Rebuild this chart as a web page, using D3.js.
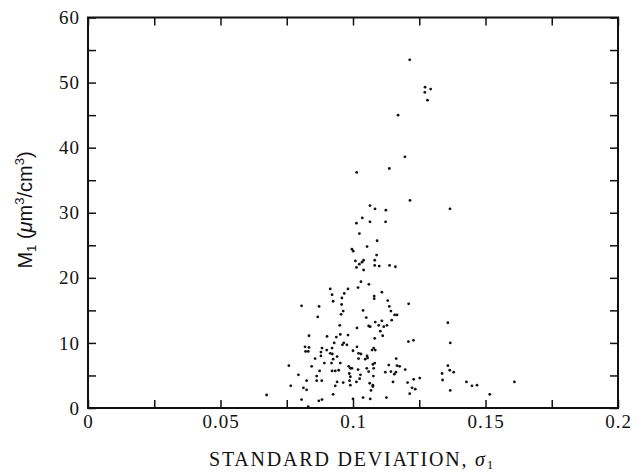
<!DOCTYPE html>
<html>
<head>
<meta charset="utf-8">
<script src="https://cdn.jsdelivr.net/npm/d3@7"></script>
<style>
  body { margin: 0; background: #fff; }
  svg { display: block; }
</style>
</head>
<body>
<script>
var width = 637;
var height = 475;
var plotLeft = 88, plotRight = 618, plotTop = 17.5, plotBottom = 408;

// standard deviation (sigma_1) of each sample
var sigma = [
  0.1214, 0.1272, 0.1293, 0.1271, 0.1281, 0.1170, 0.1196, 0.1137, 0.1014, 0.1215,
  0.1366, 0.1064, 0.1083, 0.1124, 0.1035, 0.1013, 0.1064, 0.1123, 0.1024, 0.1091,
  0.1053, 0.0996, 0.1001, 0.1089, 0.1009, 0.1040, 0.1082, 0.1024, 0.1034, 0.1013,
  0.1040, 0.1082, 0.1099, 0.1138, 0.1160, 0.1030, 0.1019, 0.1060, 0.0981, 0.0914,
  0.0921, 0.0967, 0.1109, 0.1080, 0.1080, 0.0925, 0.0958, 0.0957, 0.1131, 0.1210,
  0.0872, 0.0963, 0.1038, 0.1137, 0.1143, 0.0955, 0.1157, 0.1166, 0.1050, 0.1109,
  0.1084, 0.1358, 0.1146, 0.0867, 0.1015, 0.1059, 0.1065, 0.1097, 0.1116, 0.1128,
  0.1103, 0.1112, 0.1082, 0.0950, 0.0981, 0.0952, 0.0937, 0.0902, 0.0965, 0.0960,
  0.0977, 0.1000, 0.1015, 0.1021, 0.1030, 0.1053, 0.1072, 0.1084, 0.1078, 0.1209,
  0.1228, 0.1367, 0.0883, 0.0879, 0.0921, 0.0914, 0.0892, 0.0925, 0.0940, 0.0952,
  0.1021, 0.1046, 0.1055, 0.1075, 0.1082, 0.1135, 0.1166, 0.1176, 0.1358, 0.1365,
  0.1380, 0.0874, 0.0921, 0.0933, 0.0946, 0.0984, 0.0990, 0.0996, 0.1019, 0.1028,
  0.1059, 0.1078, 0.1122, 0.1143, 0.1156, 0.1162, 0.1197, 0.1336, 0.1338, 0.1252,
  0.1229, 0.1206, 0.1428, 0.1449, 0.1468, 0.1609, 0.0986, 0.0990, 0.1013, 0.0987,
  0.0940, 0.0933, 0.0990, 0.1025, 0.1063, 0.1075, 0.1075, 0.1151, 0.1223, 0.1235,
  0.1214, 0.1367, 0.0925, 0.1516, 0.0883, 0.0871, 0.1000, 0.1038, 0.1065, 0.1126,
  0.1052, 0.1068, 0.1077, 0.1163, 0.0806, 0.0834, 0.0819, 0.0834, 0.0821, 0.0831,
  0.0857, 0.0758, 0.0844, 0.0794, 0.0863, 0.0863, 0.0825, 0.0765, 0.0813, 0.0825,
  0.0674, 0.0806, 0.0831, 0.0929, 0.0901, 0.0922, 0.0919, 0.0882, 0.0963, 0.0879
];

// M_1 in um^3/cm^3, same order as sigma
var m1 = [
  53.5, 49.3, 49.0, 48.5, 47.3, 45.0, 38.6, 36.8, 36.2, 31.9,
  30.6, 31.1, 30.6, 30.4, 29.2, 28.4, 28.6, 28.6, 26.8, 25.7,
  24.8, 24.4, 24.1, 23.5, 22.6, 22.7, 22.7, 22.1, 22.4, 21.6,
  21.2, 21.9, 21.8, 21.9, 21.7, 19.4, 18.5, 19.0, 18.3, 18.3,
  17.4, 17.6, 17.8, 17.2, 16.8, 16.4, 16.9, 15.9, 16.5, 16.0,
  15.6, 14.9, 15.0, 15.6, 14.9, 14.4, 14.3, 14.3, 13.9, 13.4,
  13.2, 13.1, 13.5, 14.0, 12.3, 12.6, 12.5, 12.7, 12.5, 12.7,
  11.8, 11.1, 10.7, 12.7, 11.2, 11.3, 10.9, 11.0, 10.0, 9.7,
  9.7, 8.8, 9.4, 8.4, 8.3, 8.0, 8.9, 8.9, 9.2, 10.2,
  10.4, 10.0, 9.2, 8.6, 9.2, 8.4, 6.9, 7.5, 7.9, 6.9,
  7.6, 7.5, 7.7, 6.7, 6.9, 6.6, 6.5, 6.4, 6.5, 5.8,
  5.5, 5.7, 5.7, 5.7, 5.8, 6.4, 6.1, 6.1, 5.9, 5.1,
  5.6, 6.1, 5.5, 5.6, 5.2, 5.5, 5.9, 5.3, 4.3, 4.6,
  4.4, 3.9, 4.0, 3.4, 3.5, 4.0, 5.3, 4.8, 4.0, 4.2,
  4.0, 3.4, 3.5, 4.5, 3.8, 3.5, 3.3, 4.0, 3.1, 2.9,
  2.2, 2.7, 2.1, 2.1, 1.3, 1.1, 1.4, 1.6, 1.4, 1.6,
  6.1, 2.7, 4.9, 7.6, 15.7, 11.1, 9.4, 9.3, 8.7, 8.7,
  7.6, 6.5, 6.4, 5.1, 4.9, 4.2, 4.2, 3.4, 3.1, 2.8,
  2.0, 1.3, 0.2, 10.0, 8.9, 8.3, 6.9, 4.2, 3.9, 8.0
];

var xTicks = [0, 0.05, 0.1, 0.15, 0.2];
var xMinor = [0, 0.025, 0.05, 0.075, 0.1, 0.125, 0.15, 0.175, 0.2];
var yTicks = [0, 10, 20, 30, 40, 50, 60];
var yMinor = [0, 5, 10, 15, 20, 25, 30, 35, 40, 45, 50, 55, 60];

var svg = d3.select("body").append("svg")
  .attr("width", width)
  .attr("height", height);

var xScale = d3.scaleLinear().domain([0, 0.2]).range([plotLeft, plotRight]);
var yScale = d3.scaleLinear().domain([0, 60]).range([plotBottom, plotTop]);

var serif = "'Liberation Serif', 'DejaVu Serif', serif";

// inward tick marks on all four sides
function tickAxis(axis, tx, ty) {
  var g = svg.append("g")
    .attr("transform", "translate(" + tx + "," + ty + ")")
    .call(axis);
  g.select(".domain").remove();
  g.selectAll(".tick line").attr("stroke", "#111").attr("stroke-width", 1.5);
  g.selectAll("text").remove();
}
tickAxis(d3.axisBottom(xScale).tickValues(xMinor).tickSize(-8), 0, plotBottom);
tickAxis(d3.axisTop(xScale).tickValues(xMinor).tickSize(-8), 0, plotTop);
tickAxis(d3.axisLeft(yScale).tickValues(yMinor).tickSize(-8), plotLeft, 0);
tickAxis(d3.axisRight(yScale).tickValues(yMinor).tickSize(-8), plotRight, 0);

// tick labels
var xLab = svg.append("g")
  .attr("transform", "translate(0," + plotBottom + ")")
  .call(d3.axisBottom(xScale).tickValues(xTicks).tickSize(0).tickPadding(7)
    .tickFormat(d => String(d)));
xLab.select(".domain").remove();
xLab.selectAll("text").attr("font-family", serif).attr("font-size", 19)
  .attr("letter-spacing", 1).attr("fill", "#111");

var yLab = svg.append("g")
  .attr("transform", "translate(" + plotLeft + ",0)")
  .call(d3.axisLeft(yScale).tickValues(yTicks).tickSize(0).tickPadding(8));
yLab.select(".domain").remove();
yLab.selectAll("text").attr("font-family", serif).attr("font-size", 19)
  .attr("letter-spacing", 1).attr("fill", "#111");

// frame
svg.append("rect")
  .attr("x", plotLeft).attr("y", plotTop)
  .attr("width", plotRight - plotLeft).attr("height", plotBottom - plotTop)
  .attr("fill", "none").attr("stroke", "#111").attr("stroke-width", 2);

// points
svg.append("g").selectAll("circle")
  .data(sigma)
  .enter().append("circle")
  .attr("cx", d => xScale(d))
  .attr("cy", (d, i) => yScale(m1[i]))
  .attr("r", 1.4)
  .attr("fill", "#111");

// x axis title
var xt = svg.append("text")
  .attr("x", 352)
  .attr("y", 466)
  .attr("text-anchor", "middle")
  .attr("font-family", serif)
  .attr("font-size", 20)
  .attr("letter-spacing", 1.8)
  .attr("fill", "#111");
xt.append("tspan").text("STANDARD DEVIATION, ");
xt.append("tspan").attr("font-style", "italic").text("σ");
xt.append("tspan").attr("font-size", 13).attr("dy", 3).text("1");

// y axis title
var yt = svg.append("text")
  .attr("transform", "translate(32,210) rotate(-90)")
  .attr("text-anchor", "middle")
  .attr("font-family", "'Liberation Sans', Arial, sans-serif")
  .attr("font-size", 20)
  .attr("fill", "#111");
yt.append("tspan").text("M");
yt.append("tspan").attr("font-size", 13).attr("dy", 4).text("1");
yt.append("tspan").attr("dy", -4).text(" (");
yt.append("tspan").attr("font-style", "italic").text("μ");
yt.append("tspan").text("m");
yt.append("tspan").attr("font-size", 13).attr("dy", -8).text("3");
yt.append("tspan").attr("dy", 8).text("/cm");
yt.append("tspan").attr("font-size", 13).attr("dy", -8).text("3");
yt.append("tspan").attr("dy", 8).text(")");
</script>
</body>
</html>
